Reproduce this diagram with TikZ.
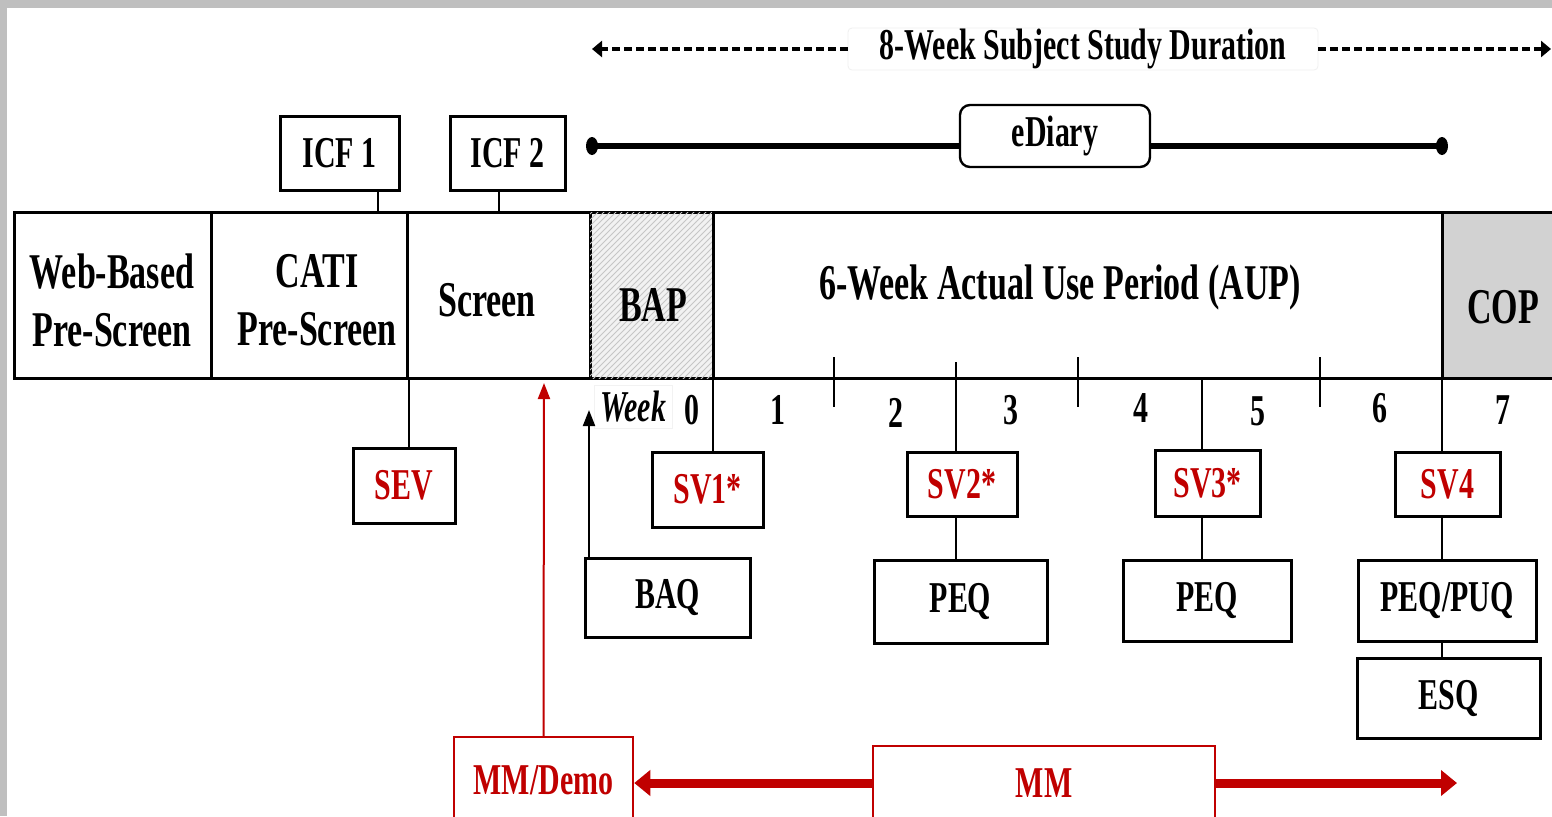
\documentclass[tikz,border=0pt]{standalone}
\usepackage{fontspec}
\setmainfont[FakeStretch=0.68]{Liberation Serif}
\usetikzlibrary{arrows.meta,patterns}

\definecolor{visitred}{HTML}{C00000}
\definecolor{edgegray}{HTML}{BFBFBF}

\tikzset{
    box/.style={draw, line width=1.5pt, inner sep=0pt, font=\fontsize{22}{24}\selectfont\bfseries},
    visitbox/.style={box, text=visitred},
    mmbox/.style={box, draw=visitred, text=visitred, line width=1.25pt},
    seg/.style={draw, line width=1.5pt, inner sep=0pt, minimum height=83pt},
    barlabel/.style={font=\fontsize{25}{29}\selectfont\bfseries, align=center},
    wk/.style={font=\fontsize{22}{24}\selectfont\bfseries, inner sep=0pt},
    conn/.style={line width=1pt},
    thinconn/.style={line width=0.6pt},
    tick/.style={line width=0.6pt},
    uparrow/.style={line width=1pt, -{Triangle[length=8pt,width=6pt]}},
    mmarrow/.style={visitred, line width=4.5pt, -{Triangle[length=8pt,width=12.5pt]}},
    durarrow/.style={line width=2pt, dash pattern=on 4pt off 2pt, -{Triangle[length=5pt,width=8pt]}}
}

\begin{document}
\begin{tikzpicture}[x=0.5pt, y=-0.5pt]
    \useasboundingbox (0,0) rectangle (1552,816);
    \clip (0,0) rectangle (1552,816);
    \fill[edgegray] (0,0) rectangle (1552,816);
    \fill[white] (7,8) rectangle (1552,816);

    % study duration
    \node[draw=gray!12, rounded corners=2pt, fill=white, inner sep=0pt, minimum width=235pt, minimum height=21pt, font=\fontsize{22}{24}\selectfont\bfseries] (dur) at (1083,49) {8-Week Subject Study Duration};
    \coordinate (durl) at (592,49);
    \coordinate (durr) at (1551,49);
    \draw[durarrow] (dur.west) -- (durl);
    \draw[durarrow] (dur.east) -- (durr);

    % eDiary
    \coordinate (dl) at (592,146);
    \coordinate (dr) at (1442,146);
    \node[box, rounded corners=5pt, line width=1.2pt, fill=white, minimum width=95pt, minimum height=31pt] (ediary) at (1055,136) {eDiary};
    \draw[line width=3pt] (dl) -- (dl -| ediary.west);
    \draw[line width=3pt] (dr -| ediary.east) -- (dr);
    \fill (dl) ellipse [x radius=3pt, y radius=4.5pt];
    \fill (dr) ellipse [x radius=3pt, y radius=4.5pt];

    % consent
    \node[box, minimum width=59.5pt, minimum height=37pt] (icf1) at (339.5,153) {ICF 1};
    \node[box, minimum width=57.5pt, minimum height=37pt] (icf2) at (507.5,153) {ICF 2};

    % study periods
    \node[seg, minimum width=98.5pt] (web) at (112.5,295) {};
    \node[seg, minimum width=98pt] (cati) at (309,295) {};
    \node[seg, minimum width=91.5pt] (screen) at (498.5,295) {};
    \node[seg, minimum width=61.5pt, fill=gray!10, postaction={pattern=north east lines, pattern color=gray!45}] (bap) at (651.5,295) {};
    \node[seg, minimum width=364.5pt] (aup) at (1077.5,295) {};
    \node[seg, minimum width=59pt, fill=gray!35] (cop) at (1501,295) {};

    \node[barlabel] (webtxt) at (112,300) {Web-Based\\Pre-Screen};
    \node[barlabel] (catitxt) at (317,300) {CATI\\Pre-Screen};
    \node[barlabel] (screentxt) at (487,300) {Screen};
    \node[barlabel] (baptxt) at (653,305) {BAP};
    \node[barlabel] (auptxt) at (1060,287) {6-Week Actual Use Period (AUP)};
    \node[barlabel] (coptxt) at (1503,307) {COP};

    \draw[thinconn] ([xshift=19.25pt]icf1.south) -- ([xshift=19.25pt]icf1.south |- cati.north);
    \draw[thinconn] ([xshift=-4.25pt]icf2.south) -- ([xshift=-4.25pt]icf2.south |- screen.north);

    % weeks
    \draw[tick] (834,357) -- (834,407);
    \draw[tick] (1078,357) -- (1078,407);
    \draw[tick] (1320,357) -- (1320,407);
    \node[wk, fill=white, draw=gray!10, inner sep=3pt, font=\fontsize{22}{24}\selectfont\bfseries\itshape] (week) at (633,407) {Week};
    \node[wk] (w0) at (692,410) {0};
    \node[wk] (w1) at (778,410) {1};
    \node[wk] (w2) at (896,413) {2};
    \node[wk] (w3) at (1011,410) {3};
    \node[wk] (w4) at (1141,408) {4};
    \node[wk] (w5) at (1258,411) {5};
    \node[wk] (w6) at (1380,408) {6};
    \node[wk] (w7) at (1503,410) {7};

    % visits
    \node[visitbox, minimum width=51pt, minimum height=37.5pt] (sev) at (404,485.5) {SEV};
    \node[visitbox, minimum width=55.5pt, minimum height=37.5pt] (sv1) at (707.5,489.5) {SV1*};
    \node[visitbox, minimum width=55pt, minimum height=32pt] (sv2) at (962,484) {SV2*};
    \node[visitbox, minimum width=52.5pt, minimum height=33pt] (sv3) at (1207.5,483) {SV3*};
    \node[visitbox, minimum width=52.5pt, minimum height=32pt] (sv4) at (1447.5,484) {SV4};

    \coordinate (t1) at (713,378);
    \coordinate (t2) at (956,362);
    \coordinate (t3) at (1202,378);
    \coordinate (t4) at (1442,378);
    \draw[conn] (cati.south east) -- (cati.south east |- sev.north);
    \draw[thinconn] (t1) -- (t1 |- sv1.north);
    \draw[conn] (t2) -- (t2 |- sv2.north);
    \draw[conn] (t3) -- (t3 |- sv3.north);
    \draw[conn] (t4) -- (t4 |- sv4.north);

    % questionnaires
    \node[box, minimum width=82.5pt, minimum height=39.5pt] (baq) at (667.5,597.5) {BAQ};
    \node[box, minimum width=86.5pt, minimum height=41.5pt] (peqa) at (960.5,601.5) {PEQ};
    \node[box, minimum width=84pt, minimum height=40.5pt] (peqb) at (1207,600.5) {PEQ};
    \node[box, minimum width=89pt, minimum height=40.5pt] (peqpuq) at (1447,600.5) {PEQ/PUQ};
    \node[box, minimum width=91.5pt, minimum height=40pt] (esq) at (1448.5,698) {ESQ};

    \coordinate (baqtip) at (589,410);
    \draw[uparrow] (baqtip |- baq.north) -- (baqtip);
    \draw[conn] (t2 |- sv2.south) -- (t2 |- peqa.north);
    \draw[conn] (t3 |- sv3.south) -- (t3 |- peqb.north);
    \draw[conn] (t4 |- sv4.south) -- (t4 |- peqpuq.north);
    \draw[conn] (t4 |- peqpuq.south) -- (t4 |- esq.north);

    % medication
    \node[mmbox, minimum width=89.5pt, minimum height=43pt] (mmdemo) at (543.5,780) {MM/Demo};
    \node[mmbox, minimum width=171pt, minimum height=37pt] (mm) at (1044,783) {MM};

    \coordinate (redtip) at (544,383);
    \coordinate (mmend) at (1457,780);
    \draw[uparrow, visitred] (mmdemo.north) -- (redtip);
    \draw[mmarrow] (mm.west) -- (mm.west -| mmdemo.east);
    \draw[mmarrow] (mm.east) -- (mm.east -| mmend);
\end{tikzpicture}
\end{document}
